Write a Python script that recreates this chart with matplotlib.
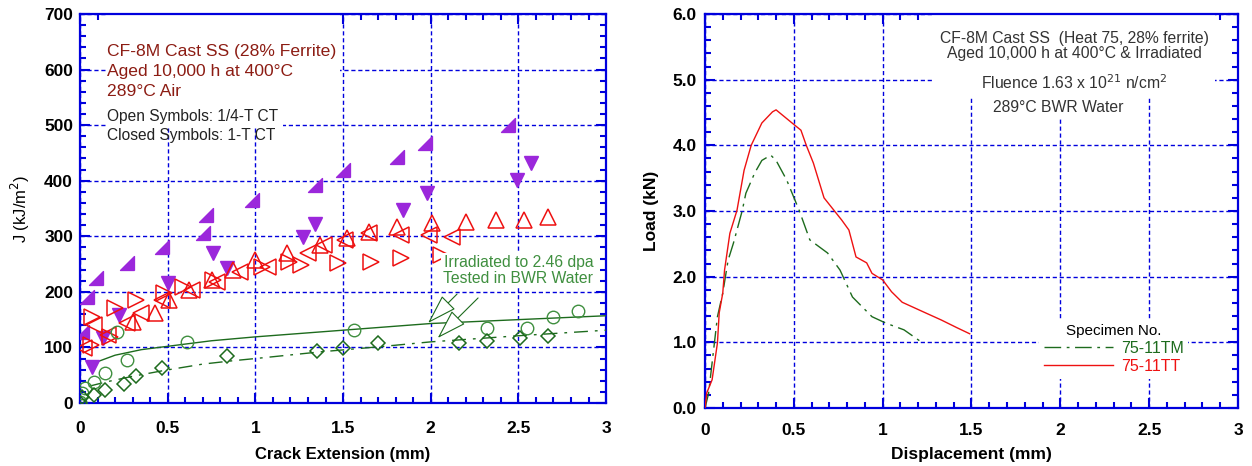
"""
J-R curves and load-displacement curves for aged CF-8M cast SS.
"""

import matplotlib
matplotlib.use('Agg')
import matplotlib.pyplot as plt
from matplotlib.patches import Rectangle
from matplotlib.ticker import MultipleLocator, FormatStrFormatter

plt.rcParams['font.family'] = ['Liberation Sans', 'DejaVu Sans']

# ---- left panel: J-R data (crack extension mm, J kJ/m2) ----
# 1-T CT, closed symbols
closed_wedge_x = [0.01, 0.04, 0.09, 0.27, 0.47, 0.70, 0.72, 0.98, 1.34, 1.50, 1.81, 1.97, 2.44]
closed_wedge_y = [128, 191, 225, 252, 281, 306, 338, 365, 393, 419, 443, 468, 500]
closed_down_x = [0.07, 0.13, 0.22, 0.50, 0.76, 0.84, 1.27, 1.34, 1.84, 1.98, 2.49, 2.57]
closed_down_y = [65, 117, 158, 216, 270, 243, 298, 322, 347, 378, 401, 432]

# 1/4-T CT, open symbols
open_up_x = [0.30, 0.43, 0.51, 0.62, 0.75, 0.87, 1.00, 1.18, 1.37, 1.52, 1.65, 1.81,
             2.01, 2.20, 2.37, 2.53, 2.67]
open_up_y = [146, 162, 185, 203, 221, 240, 257, 270, 284, 297, 308, 317,
             323, 326, 329, 329, 335]
open_left_x = [0.02, 0.08, 0.16, 0.27, 0.35, 0.47, 0.64, 0.78, 0.91, 1.07, 1.30, 1.39,
               1.51, 1.65, 1.83, 1.99, 2.12]
open_left_y = [99, 140, 122, 144, 162, 185, 203, 218, 236, 245, 270, 284,
               293, 306, 302, 302, 299]
open_right_x = [0.06, 0.07, 0.17, 0.20, 0.32, 0.48, 0.59, 0.76, 1.04, 1.19, 1.26,
                1.47, 1.66, 1.83, 2.06]
open_right_y = [104, 155, 119, 171, 185, 198, 209, 221, 245, 254, 248,
                252, 254, 261, 266]

# irradiated, BWR water
irr_circle_x = [0.0, 0.01, 0.03, 0.08, 0.14, 0.27, 0.21, 0.61, 1.56, 2.32, 2.55, 2.70, 2.84]
irr_circle_y = [2, 18, 27, 38, 54, 77, 128, 110, 131, 135, 135, 155, 166]
irr_diamond_x = [0.0, 0.01, 0.08, 0.14, 0.25, 0.32, 0.47, 0.84, 1.35, 1.50, 1.70,
                 2.16, 2.32, 2.51, 2.67]
irr_diamond_y = [0, 11, 14, 24, 34, 49, 63, 84, 94, 99, 108, 108, 111, 117, 121]

# fitted curves
fit_circle_x = [0.08, 0.2, 0.35, 0.5, 0.75, 1.0, 1.5, 2.0, 2.5, 3.0]
fit_circle_y = [72, 86, 96, 102, 112, 119, 131, 143, 150, 157]
fit_diamond_x = [0.05, 0.15, 0.3, 0.47, 0.7, 0.87, 1.0, 1.37, 1.7, 2.0, 2.5, 3.0]
fit_diamond_y = [30, 38, 48, 58, 70, 76, 80, 92, 101, 110, 121, 131]

# ---- right panel: load-displacement (mm, kN) ----
tm_disp = [0.0, 0.02, 0.07, 0.10, 0.13, 0.16, 0.21, 0.23, 0.28, 0.32, 0.37, 0.40,
           0.46, 0.53, 0.57, 0.59, 0.69, 0.76, 0.83, 0.94, 1.02, 1.12, 1.22]
tm_load = [0.0, 0.22, 1.39, 1.75, 2.25, 2.51, 3.01, 3.27, 3.58, 3.77, 3.85, 3.77,
           3.47, 3.01, 2.71, 2.56, 2.36, 2.10, 1.69, 1.39, 1.29, 1.19, 1.00]
tt_disp = [0.0, 0.01, 0.04, 0.07, 0.08, 0.10, 0.11, 0.14, 0.18, 0.22, 0.26, 0.32,
           0.38, 0.40, 0.49, 0.54, 0.57, 0.61, 0.67, 0.77, 0.81, 0.85, 0.91, 0.94,
           1.00, 1.05, 1.11, 1.24, 1.33, 1.42, 1.49]
tt_load = [0.0, 0.23, 0.43, 0.99, 1.45, 1.75, 2.10, 2.66, 3.01, 3.62, 4.00, 4.34,
           4.51, 4.54, 4.34, 4.23, 4.00, 3.73, 3.20, 2.86, 2.71, 2.30, 2.21, 2.05,
           1.95, 1.77, 1.61, 1.45, 1.34, 1.22, 1.13]

x_ticks = [0, 0.5, 1, 1.5, 2, 2.5, 3]
x_tick_labels = ['0', '0.5', '1', '1.5', '2', '2.5', '3']

BLUE = '#0000dd'
PURPLE = '#9b27db'
RED = '#ee1111'
GREEN_DARK = '#1d6b1d'
GREEN_LIGHT = '#3f8f3f'
DARK_RED = '#8c1c13'

WEDGE = [(1, -1), (1, 1), (-1, -1), (1, -1)]  # filled right-angle triangle


def style_axes(ax, y_major, y_minor):
    """Blue frame, inward ticks on all sides, dashed blue grid."""
    for s in ax.spines.values():
        s.set_color(BLUE)
        s.set_linewidth(1.6)
    ax.xaxis.set_major_locator(MultipleLocator(0.5))
    ax.xaxis.set_minor_locator(MultipleLocator(0.1))
    ax.yaxis.set_major_locator(MultipleLocator(y_major))
    ax.yaxis.set_minor_locator(MultipleLocator(y_minor))
    ax.tick_params(which='both', direction='in', top=True, right=True,
                   color=BLUE, width=1.5)
    ax.tick_params(which='major', length=7)
    ax.tick_params(which='minor', length=4.5)
    ax.grid(True, which='major', color=BLUE, linestyle=(0, (3, 2)), linewidth=1.0)
    ax.set_axisbelow(True)
    ax.set_xticks(x_ticks)
    ax.set_xticklabels(x_tick_labels)
    for lab in ax.get_xticklabels() + ax.get_yticklabels():
        lab.set_fontweight('bold')
        lab.set_fontsize(12.5)


fig = plt.figure(figsize=(12.52, 4.66), dpi=100)

# Plot 1: J-R curves
ax1 = fig.add_axes([0.0639, 0.1352, 0.4202, 0.8348])
ax1.set_xlim(0, 3)
ax1.set_ylim(0, 700)
style_axes(ax1, 100, 20)
ax1.tick_params(axis='x', which='major', pad=13)
ax1.tick_params(axis='y', which='major', pad=5)

ax1.plot(fit_circle_x, fit_circle_y, '-', color=GREEN_DARK, lw=1.0, zorder=3)
ax1.plot(fit_diamond_x, fit_diamond_y, color=GREEN_DARK, lw=1.0,
         linestyle=(0, (10, 5, 2, 5)), zorder=3)

ax1.plot(closed_wedge_x, closed_wedge_y, linestyle='none', marker=WEDGE, ms=10,
         color=PURPLE, mec=PURPLE, zorder=4)
ax1.plot(closed_down_x, closed_down_y, linestyle='none', marker='v', ms=10,
         color=PURPLE, mec=PURPLE, zorder=4)
ax1.plot(open_up_x, open_up_y, linestyle='none', marker='^', ms=11,
         mfc='none', mec=RED, mew=1.1, zorder=4)
ax1.plot(open_left_x, open_left_y, linestyle='none', marker='<', ms=11,
         mfc='none', mec=RED, mew=1.1, zorder=4)
ax1.plot(open_right_x, open_right_y, linestyle='none', marker='>', ms=11,
         mfc='none', mec=RED, mew=1.1, zorder=4)
ax1.plot(irr_circle_x, irr_circle_y, linestyle='none', marker='o', ms=9,
         mfc='none', mec=GREEN_LIGHT, mew=1.0, zorder=4)
ax1.plot(irr_diamond_x, irr_diamond_y, linestyle='none', marker='D', ms=7,
         mfc='none', mec=GREEN_DARK, mew=1.1, zorder=4)

# white blocks behind the legend text (hide the grid there)
ax1.add_patch(Rectangle((0.155, 567), 1.33, 133, facecolor='white', edgecolor='none',
                        zorder=1.5))
ax1.add_patch(Rectangle((0.155, 495), 1.0, 72, facecolor='white', edgecolor='none',
                        zorder=1.5))
ax1.text(0.155, 632, 'CF-8M Cast SS (28% Ferrite)', color=DARK_RED, fontsize=12.6,
         va='center')
ax1.text(0.155, 597, 'Aged 10,000 h at 400°C', color=DARK_RED, fontsize=12.6,
         va='center')
ax1.text(0.155, 561, '289°C Air', color=DARK_RED, fontsize=12.6, va='center')
ax1.text(0.155, 516, 'Open Symbols: 1/4-T CT', color='#222222', fontsize=11.2,
         va='center')
ax1.text(0.155, 482, 'Closed Symbols: 1-T CT', color='#222222', fontsize=11.2,
         va='center')

box = dict(facecolor='white', edgecolor='none', pad=1.5)
ax1.text(2.50, 238, 'Irradiated to 2.46 dpa\nTested in BWR Water', color=GREEN_LIGHT,
         fontsize=11.3, ha='center', va='center', linespacing=1.05, bbox=box, zorder=5)

arrow = dict(arrowstyle='-|>,head_length=1.9,head_width=0.6', fc='white',
             ec=GREEN_DARK, lw=0.8, shrinkA=0, shrinkB=0)
ax1.annotate('', xy=(1.985, 144), xytext=(2.15, 196), arrowprops=arrow, zorder=6)
ax1.annotate('', xy=(2.04, 117), xytext=(2.27, 189), arrowprops=arrow, zorder=6)

ax1.set_xlabel('Crack Extension (mm)', fontsize=12, fontweight='bold', labelpad=8)
ax1.set_ylabel('J (kJ/m$^2$)', fontsize=12, labelpad=9)

# Plot 2: load-displacement
ax2 = fig.add_axes([0.5631, 0.1245, 0.4257, 0.8455])
ax2.set_xlim(0, 3)
ax2.set_ylim(0, 6)
style_axes(ax2, 1.0, 0.2)
ax2.yaxis.set_major_formatter(FormatStrFormatter('%.1f'))
for lab in ax2.get_yticklabels():
    lab.set_fontweight('bold')
    lab.set_fontsize(12.5)
ax2.tick_params(axis='x', which='major', pad=11)
ax2.tick_params(axis='y', which='major', pad=6)

ax2.plot(tm_disp, tm_load, color=GREEN_DARK, lw=1.0, linestyle=(0, (12, 4, 2, 4)),
         label='75-11TM', zorder=3)
ax2.plot(tt_disp, tt_load, color=RED, lw=1.0, label='75-11TT', zorder=3)

# white block behind the header text
ax2.add_patch(Rectangle((1.28, 4.74), 1.59, 1.26, facecolor='white', edgecolor='none',
                        zorder=1.5))
ax2.text(2.08, 5.51, 'CF-8M Cast SS  (Heat 75, 28% ferrite)\n'
         'Aged 10,000 h at 400°C & Irradiated', color='#333333', fontsize=11.3,
         ha='center', va='center', linespacing=1.05, zorder=4)
ax2.text(2.08, 4.96, 'Fluence 1.63 x 10$^{21}$ n/cm$^2$', color='#333333', fontsize=11.3,
         ha='center', va='center', zorder=4)
ax2.text(1.99, 4.58, '289°C BWR Water', color='#333333', fontsize=11.3,
         ha='center', va='center', bbox=box, zorder=4)

leg = ax2.legend(loc='center left', bbox_to_anchor=(0.612, 0.15), title='Specimen No.',
                 frameon=True, fontsize=11.5, title_fontsize=11, labelcolor='linecolor',
                 handlelength=4.3, handletextpad=0.5, borderpad=0.3, labelspacing=0.2,
                 alignment='center')
leg.get_frame().set_facecolor('white')
leg.get_frame().set_edgecolor('none')
leg.get_frame().set_alpha(1.0)

ax2.set_xlabel('Displacement (mm)', fontsize=12.5, fontweight='bold', labelpad=6)
ax2.set_ylabel('Load (kN)', fontsize=12.5, fontweight='bold', labelpad=10)

plt.savefig('out.png', dpi=100)
